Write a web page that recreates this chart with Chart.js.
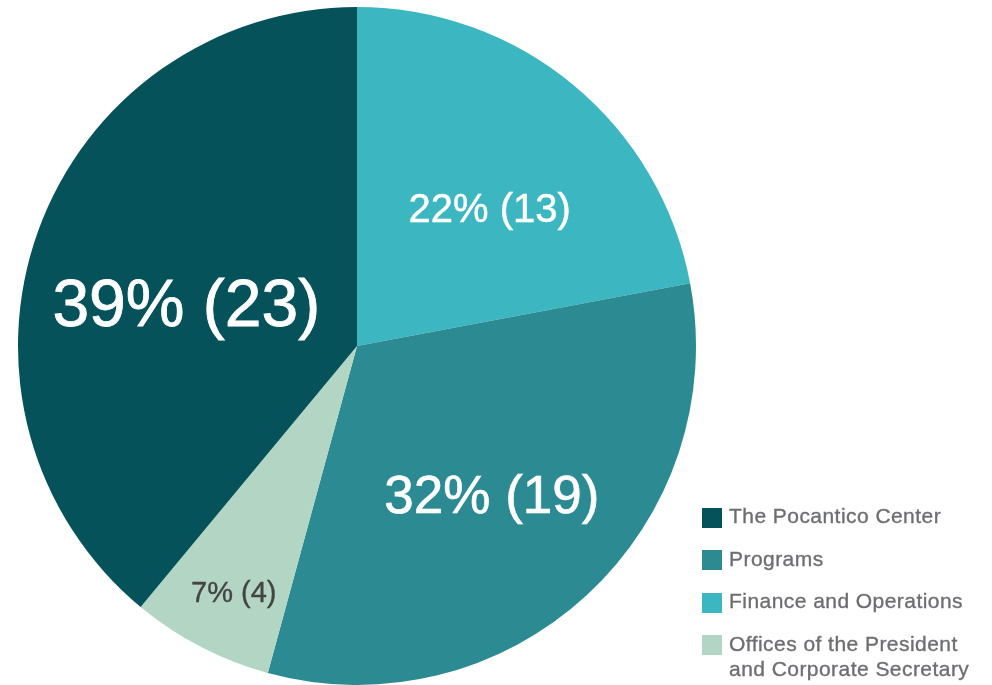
<!DOCTYPE html>
<html>
<head>
<meta charset="utf-8">
<script src="https://cdn.jsdelivr.net/npm/chart.js@4/dist/chart.umd.min.js"></script>
<style>
  body { margin: 0; background: #fff; font-family: Helvetica, Arial, "Liberation Sans", sans-serif; }
  #wrap { position: relative; width: 992px; height: 685px; overflow: hidden; }
  #legend { position: absolute; left: 702px; top: 503px; color: #6d6e71; font-size: 21px; line-height: 25px; letter-spacing: 0.45px; -webkit-text-stroke: 0.35px #6d6e71; }
  .item { display: flex; align-items: flex-start; margin-bottom: 17.5px; }
  .box { width: 20px; height: 20px; margin-top: 4.5px; margin-right: 7px; flex: none; }
</style>
</head>
<body>
<div id="wrap">
  <canvas id="pieChart" width="992" height="685"></canvas>
  <div id="legend"></div>
</div>
<script>
// Ordem das fatias no sentido horário a partir do topo
const categories = ['Finance and Operations', 'Programs', ['Offices of the President', 'and Corporate Secretary'], 'The Pocantico Center'];
const counts = [13, 19, 4, 23];
const sliceColors = ['#3cb6c0', '#2c8b92', '#b3d5c3', '#06525a'];

// Ordem da legenda
const legendOrder = [3, 1, 0, 2];

// Estilo dos rótulos dentro das fatias
const labelStyle = [
    { size: 40, color: '#ffffff', radius: 0.565, shift: 4.2 },
    { size: 53, color: '#ffffff', radius: 0.59, shift: 0.3 },
    { size: 29, color: '#444444', radius: 0.81, shift: -0.8 },
    { size: 66, color: '#ffffff', radius: 0.52, shift: -5.4 }
];

const total = counts.reduce((a, b) => a + b, 0);

const sliceLabels = {
    id: 'sliceLabels',
    afterDatasetsDraw(chart) {
        const ctx = chart.ctx;
        const arcs = chart.getDatasetMeta(0).data;
        arcs.forEach((arc, i) => {
            const p = arc.getProps(['x', 'y', 'startAngle', 'endAngle', 'outerRadius'], true);
            const st = labelStyle[i];
            const mid = (p.startAngle + p.endAngle) / 2 + st.shift * Math.PI / 180;
            const r = p.outerRadius * st.radius;
            const x = p.x + Math.cos(mid) * r;
            const y = p.y + Math.sin(mid) * r;
            const text = Math.round(counts[i] / total * 100) + '% (' + counts[i] + ')';
            ctx.save();
            ctx.font = st.size + 'px Helvetica, Arial, "Liberation Sans", sans-serif';
            ctx.fillStyle = st.color;
            ctx.strokeStyle = st.color;
            ctx.lineWidth = st.size / 80;
            ctx.textAlign = 'center';
            ctx.textBaseline = 'alphabetic';
            ctx.fillText(text, x, y + st.size * 0.358);
            ctx.strokeText(text, x, y + st.size * 0.358);
            ctx.restore();
        });
    }
};

const pieCtx = document.getElementById('pieChart').getContext('2d');
new Chart(pieCtx, {
    type: 'pie',
    data: {
        labels: categories,
        datasets: [{
            data: counts,
            backgroundColor: sliceColors,
            borderWidth: 0
        }]
    },
    options: {
        responsive: false,
        animation: false,
        layout: { padding: { left: 18, top: 7, right: 296, bottom: 0 } },
        plugins: {
            legend: { display: false },
            tooltip: { enabled: false }
        }
    },
    plugins: [sliceLabels]
});

// Legenda em HTML
const legendEl = document.getElementById('legend');
legendOrder.forEach(i => {
    const item = document.createElement('div');
    item.className = 'item';
    const box = document.createElement('span');
    box.className = 'box';
    box.style.background = sliceColors[i];
    const txt = document.createElement('span');
    const lbl = categories[i];
    txt.innerHTML = Array.isArray(lbl) ? lbl.join('<br>') : lbl;
    item.appendChild(box);
    item.appendChild(txt);
    legendEl.appendChild(item);
});
</script>
</body>
</html>
